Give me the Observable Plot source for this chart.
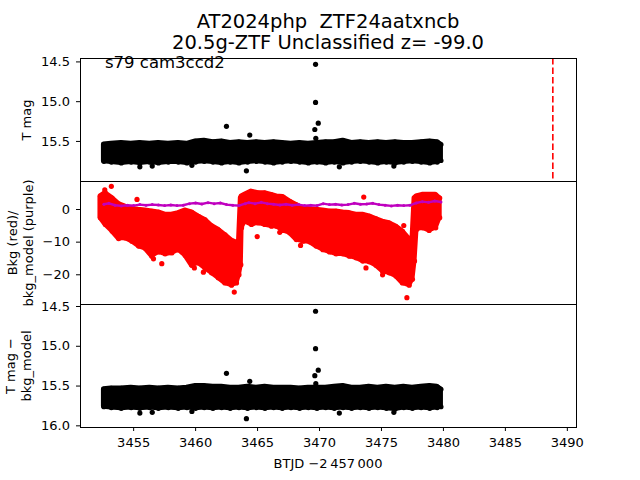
<!DOCTYPE html>
<html>
<head>
<meta charset="utf-8">
<script src="https://cdn.jsdelivr.net/npm/d3@7"></script>
<script src="https://cdn.jsdelivr.net/npm/@observablehq/plot@0.6"></script>
<style>
  body { margin: 0; background: white; font-family: "DejaVu Sans", sans-serif; }
  #wrap { position: relative; width: 640px; height: 480px; overflow: hidden; background: white; }
  .lbl { position: absolute; white-space: pre; color: black; line-height: 1; }
  .panel { position: absolute; left: 0; }
</style>
</head>
<body>
<div id="wrap">
  <div class="lbl" id="title1" style="left:0;width:656px;text-align:center;top:11.8px;font-size:19.5px;"></div>
  <div class="lbl" id="title2" style="left:0;width:656px;text-align:center;top:32.8px;font-size:19.5px;"></div>
  <div class="lbl" id="xlabel" style="left:0;width:656px;text-align:center;top:457.3px;font-size:13px;"></div>
</div>
<script>
// ---------------- data ----------------
const titleLine1 = "AT2024php  ZTF24aatxncb";
const titleLine2 = "20.5g-ZTF Unclassified z= -99.0";
const sectorText = "s79 cam3ccd2";
const xLabel = "BTJD \u22122\u2009457\u2009000";
const yLabelTop = "T mag";
const yLabelMid = "Bkg (red)/\nbkg_model (purple)";
const yLabelBot = "T mag \u2212\nbkg_model";

const xTicks = [3455, 3460, 3465, 3470, 3475, 3480, 3485, 3490];
const yTicksTop = [14.5, 15.0, 15.5];
const yTicksMid = [0, -10, -20];
const yTicksBot = [14.5, 15.0, 15.5, 16.0];
const discoveryTime = [3488.83];

// dense light-curve band (envelope of the plotted points), T mag
const bandX = [3452.6, 3453.2, 3454.0, 3454.8, 3455.5, 3456.3, 3457.0, 3457.8, 3458.6, 3459.3,
               3460.0, 3460.7, 3461.4, 3462.1, 3462.8, 3463.5, 3464.2, 3464.9, 3465.6, 3466.3,
               3467.0, 3467.7, 3468.4, 3469.1, 3469.8, 3470.5, 3471.2, 3471.9, 3472.6, 3473.3,
               3474.0, 3474.7, 3475.4, 3476.1, 3476.8, 3477.5, 3478.2, 3478.9, 3479.5, 3479.8];
const topBandHi = [15.54, 15.53, 15.52, 15.53, 15.52, 15.53, 15.52, 15.53, 15.52, 15.53,
                   15.50, 15.49, 15.51, 15.50, 15.52, 15.51, 15.52, 15.51, 15.52, 15.51,
                   15.52, 15.53, 15.52, 15.53, 15.52, 15.51, 15.51, 15.49, 15.52, 15.51,
                   15.52, 15.51, 15.52, 15.51, 15.52, 15.52, 15.51, 15.50, 15.51, 15.54];
const topBandLo = [15.75, 15.76, 15.77, 15.76, 15.77, 15.76, 15.77, 15.76, 15.76, 15.77,
                   15.76, 15.75, 15.76, 15.77, 15.76, 15.77, 15.76, 15.75, 15.76, 15.77,
                   15.76, 15.75, 15.76, 15.77, 15.76, 15.77, 15.76, 15.77, 15.76, 15.75,
                   15.76, 15.77, 15.76, 15.77, 15.76, 15.75, 15.76, 15.77, 15.76, 15.74];
const topOutX = [3469.68, 3469.68, 3469.90, 3469.62, 3469.70, 3462.49, 3464.37, 3464.10,
                 3455.50, 3456.50, 3459.70, 3471.60, 3476.00];
const topOutY = [14.53, 15.01, 15.27, 15.35, 15.46, 15.31, 15.42, 15.87,
                 15.82, 15.81, 15.80, 15.82, 15.81];

// T mag - bkg_model
const botBandHi = [15.54, 15.53, 15.53, 15.52, 15.53, 15.52, 15.53, 15.52, 15.53, 15.52,
                   15.50, 15.50, 15.51, 15.51, 15.52, 15.52, 15.51, 15.52, 15.51, 15.52,
                   15.52, 15.52, 15.53, 15.52, 15.52, 15.52, 15.51, 15.50, 15.52, 15.52,
                   15.51, 15.52, 15.51, 15.52, 15.51, 15.52, 15.51, 15.50, 15.51, 15.54];
const botBandLo = [15.76, 15.77, 15.78, 15.77, 15.78, 15.77, 15.78, 15.77, 15.78, 15.77,
                   15.78, 15.77, 15.78, 15.77, 15.78, 15.77, 15.78, 15.77, 15.78, 15.77,
                   15.78, 15.77, 15.78, 15.77, 15.78, 15.77, 15.78, 15.77, 15.78, 15.77,
                   15.78, 15.77, 15.78, 15.79, 15.77, 15.78, 15.77, 15.78, 15.77, 15.76];
const botOutX = [3469.68, 3469.68, 3469.90, 3469.62, 3469.70, 3462.49, 3464.37, 3464.10,
                 3455.50, 3456.50, 3459.70, 3471.60, 3476.00];
const botOutY = [14.56, 15.03, 15.30, 15.37, 15.47, 15.34, 15.44, 15.91,
                 15.84, 15.83, 15.82, 15.84, 15.83];

// background flux band (red): envelope of the plotted points
const bkgX  = [3452.32, 3452.72, 3453.26, 3453.79, 3454.33, 3454.86, 3455.40, 3455.93, 3456.47, 3457.01,
               3457.54, 3458.08, 3458.62, 3459.15, 3459.69, 3460.22, 3460.76, 3461.29, 3461.83, 3462.37,
               3462.90, 3463.30, 3463.50, 3463.65, 3463.71, 3463.97, 3464.51, 3465.05, 3465.58, 3466.12,
               3466.52, 3467.06, 3467.59, 3468.13, 3468.66, 3469.20, 3469.73, 3470.27, 3470.81, 3471.34,
               3471.88, 3472.41, 3472.95, 3473.49, 3474.02, 3474.56, 3475.09, 3475.63, 3476.17, 3476.70,
               3477.24, 3477.50, 3477.67, 3477.83, 3478.31, 3478.85, 3479.38, 3479.70];
const bkgHi = [4.0, 5.0, 3.5, 1.7, 0.9, 0.2, -0.1, -0.3, -0.6, -0.9,
               -1.6, -1.6, -1.1, -0.3, -0.9, -2.1, -3.2, -5.0, -6.2, -7.8,
               -9.5, -10.1, -10.0, 3.5, 4.0, 4.5, 5.5, 5.0, 5.0, 4.5,
               4.0, 3.8, 2.5, 1.4, 0.4, 0.1, -0.1, -0.3, -0.6, -0.6,
               -0.9, -1.1, -1.6, -1.6, -2.1, -2.9, -3.7, -4.2, -5.2, -6.7,
               -9.1, -9.5, 3.5, 4.0, 4.5, 4.5, 4.5, 3.5];
const bkgLo = [-2.5, -4.6, -6.6, -8.9, -8.7, -9.7, -11.2, -11.9, -14.3, -13.0,
               -13.6, -13.3, -12.3, -14.0, -17.1, -16.3, -17.9, -19.4, -20.9, -22.5,
               -23.2, -22.5, -20.0, -16.9, -5.6, -3.6, -4.6, -4.1, -4.6, -5.1,
               -5.1, -6.4, -7.1, -9.2, -9.7, -9.9, -11.2, -12.3, -13.0, -13.6,
               -13.6, -14.3, -14.8, -15.8, -16.0, -17.1, -18.9, -19.4, -20.4, -22.5,
               -23.2, -21.4, -15.8, -6.1, -5.6, -6.4, -5.6, -2.5];
const bkgOutX = [3452.67, 3453.20, 3455.27, 3457.27, 3459.90, 3460.63, 3463.12, 3464.97, 3456.60,
                 3473.57, 3466.79, 3468.47, 3473.75, 3475.09, 3477.05, 3476.80];
const bkgOutY = [6.0, 7.1, 3.1, -16.6, -17.9, -19.2, -25.3, -8.3, -15.1,
                 3.8, -7.0, -11.0, -17.9, -20.0, -27.0, -4.9];

// background model (purple)
const modelX = [3452.6, 3453.0, 3453.5, 3454.0, 3454.5, 3455.0, 3455.5, 3456.0, 3456.5, 3457.0,
                3457.5, 3458.0, 3458.5, 3459.0, 3459.5, 3460.0, 3460.5, 3461.0, 3461.5, 3462.0,
                3462.5, 3463.0, 3463.5, 3464.0, 3464.3, 3464.8, 3465.3, 3465.8, 3466.3, 3466.8,
                3467.3, 3467.8, 3468.3, 3468.8, 3469.3, 3469.8, 3470.3, 3470.8, 3471.3, 3471.8,
                3472.3, 3472.8, 3473.3, 3473.8, 3474.3, 3474.8, 3475.3, 3475.8, 3476.3, 3476.8,
                3477.3, 3477.8, 3478.3, 3478.8, 3479.3, 3479.8];
const modelY = [1.6, 1.9, 1.3, 1.1, 1.3, 1.2, 1.5, 1.3, 1.5, 1.4,
                1.2, 1.4, 1.2, 1.3, 1.8, 2.0, 1.7, 2.1, 1.8, 2.0,
                1.5, 1.3, 1.2, 1.8, 2.1, 1.8, 2.2, 1.8, 1.6, 1.4,
                1.6, 1.3, 1.5, 1.2, 1.3, 1.2, 1.8, 1.5, 1.6, 1.4,
                1.5, 1.9, 1.6, 1.7, 1.9, 1.5, 1.3, 1.1, 1.3, 1.2,
                1.3, 2.0, 2.4, 2.2, 2.6, 2.3];

// ---------------- tables ----------------
const topBand = bandX.map((x, i) => ({x, hi: topBandHi[i], lo: topBandLo[i]}));
const botBand = bandX.map((x, i) => ({x, hi: botBandHi[i], lo: botBandLo[i]}));
const topOut = topOutX.map((x, i) => ({x, y: topOutY[i]}));
const botOut = botOutX.map((x, i) => ({x, y: botOutY[i]}));
const bkgBand = bkgX.map((x, i) => ({x, hi: bkgHi[i], lo: bkgLo[i]}));
const bkgOut = bkgOutX.map((x, i) => ({x, y: bkgOutY[i]}));
const model = modelX.map((x, i) => ({x, y: modelY[i]}));

// ---------------- layout ----------------
const W = 640, ML = 80, MR = 64, PH = 123;
const xDomain = [3450.71, 3490.74];
const minusFmt = d => (d < 0 ? "\u2212" + Math.abs(d) : String(d));
const fmt1 = d => d.toFixed(1);
const baseStyle = {background: "transparent", overflow: "visible", fontFamily: "DejaVu Sans, sans-serif", fontSize: "13px", color: "black"};

function ylabel(text, dx) {
  return Plot.text([text], {text: d => d, frameAnchor: "left", dx, rotate: -90, textAnchor: "middle",
                            lineHeight: 1.25, fontSize: 13, fill: "black"});
}

const p1 = Plot.plot({
  width: W, height: PH, marginLeft: ML, marginRight: MR, marginTop: 0, marginBottom: 0,
  style: baseStyle,
  x: {domain: xDomain, axis: null},
  y: {domain: [16.004, 14.457], ticks: yTicksTop, tickFormat: fmt1, tickSize: 4, tickPadding: 6.5, label: null},
  marks: [
    Plot.areaY(topBand, {x: "x", y1: "lo", y2: "hi", fill: "black", stroke: "black", strokeWidth: 5, strokeLinejoin: "round"}),
    Plot.dot(topBand, {x: "x", y: "hi", r: 2.6, fill: "black"}),
    Plot.dot(topBand, {x: "x", y: "lo", r: 2.6, fill: "black"}),
    Plot.dot(topOut, {x: "x", y: "y", r: 2.6, fill: "black"}),
    Plot.ruleX(discoveryTime, {stroke: "red", strokeWidth: 1.6, strokeDasharray: "6.5,3"}),
    Plot.frame({stroke: "black", strokeWidth: 1}),
    ylabel(yLabelTop, -55)
  ]
});

const p2 = Plot.plot({
  width: W, height: PH, marginLeft: ML, marginRight: MR, marginTop: 0, marginBottom: 0,
  style: baseStyle,
  x: {domain: xDomain, axis: null},
  y: {domain: [-29.1, 8.58], ticks: yTicksMid, tickFormat: minusFmt, tickSize: 4, tickPadding: 6.5, label: null},
  marks: [
    Plot.areaY(bkgBand, {x: "x", y1: "lo", y2: "hi", fill: "red", stroke: "red", strokeWidth: 5, strokeLinejoin: "round"}),
    Plot.dot(bkgBand, {x: "x", y: "hi", r: 2.6, fill: "red"}),
    Plot.dot(bkgBand, {x: "x", y: "lo", r: 2.6, fill: "red"}),
    Plot.dot(bkgOut, {x: "x", y: "y", r: 2.6, fill: "red"}),
    Plot.line(model, {x: "x", y: "y", stroke: "#bf00bf", strokeWidth: 2.4}),
    Plot.dot(model, {x: "x", y: "y", r: 1.5, fill: "#bf00bf"}),
    Plot.frame({stroke: "black", strokeWidth: 1}),
    ylabel(yLabelMid, -60.5)
  ]
});

const p3 = Plot.plot({
  width: W, height: PH + 50, marginLeft: ML, marginRight: MR, marginTop: 0, marginBottom: 50,
  style: baseStyle,
  x: {domain: xDomain, ticks: xTicks, tickFormat: d => String(d), tickSize: 4, tickPadding: 6, label: null},
  y: {domain: [16.021, 14.475], ticks: yTicksBot, tickFormat: fmt1, tickSize: 4, tickPadding: 6.5, label: null},
  marks: [
    Plot.areaY(botBand, {x: "x", y1: "lo", y2: "hi", fill: "black", stroke: "black", strokeWidth: 5, strokeLinejoin: "round"}),
    Plot.dot(botBand, {x: "x", y: "hi", r: 2.6, fill: "black"}),
    Plot.dot(botBand, {x: "x", y: "lo", r: 2.6, fill: "black"}),
    Plot.dot(botOut, {x: "x", y: "y", r: 2.6, fill: "black"}),
    Plot.frame({stroke: "black", strokeWidth: 1}),
    ylabel(yLabelBot, -62.5)
  ]
});

const wrap = document.getElementById("wrap");
[[p1, 58], [p2, 181], [p3, 304]].forEach(([p, top]) => {
  p.classList.add("panel");
  p.style.position = "absolute";
  p.style.top = top + "px";
  p.style.left = "0px";
  wrap.appendChild(p);
});

const st = document.createElement("div");
st.className = "lbl";
st.style.cssText = "left:105px;top:55.3px;font-size:16.5px;";
st.textContent = sectorText;
wrap.appendChild(st);

document.getElementById("title1").textContent = titleLine1;
document.getElementById("title2").textContent = titleLine2;
document.getElementById("xlabel").textContent = xLabel;
</script>
</body>
</html>
